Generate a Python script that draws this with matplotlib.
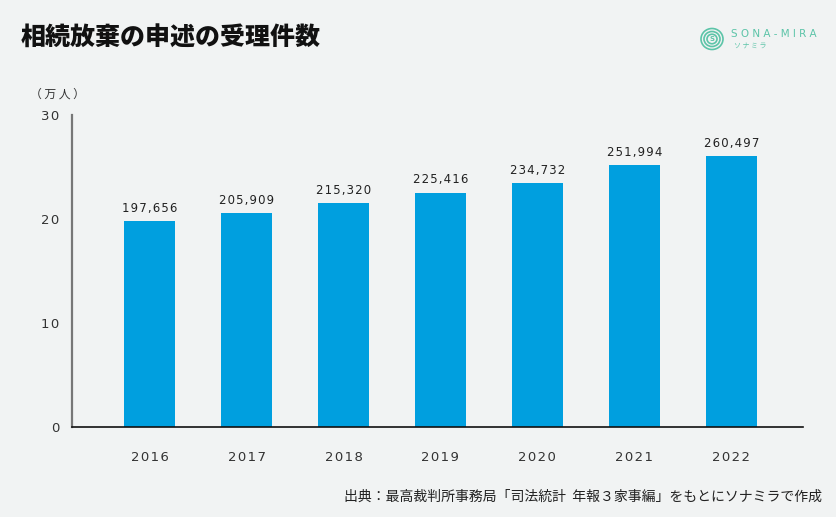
import matplotlib.pyplot as plt
from matplotlib.patches import Ellipse

plt.rcParams['font.family'] = ['Noto Sans CJK JP', 'DejaVu Sans']

years = ['2016', '2017', '2018', '2019', '2020', '2021', '2022']
cases = [197656, 205909, 215320, 225416, 234732, 251994, 260497]
yticks = [0, 10, 20, 30]

bg = '#f1f3f3'
bar_color = '#009fdf'
teal = '#5cc4a8'


def spaced(s, sep='\u200a'):
    # letter-spaced look of the original
    return sep.join(s)


fig = plt.figure(figsize=(8.36, 5.17), dpi=100, facecolor=bg)
ax = fig.add_axes([72 / 836, 90 / 517, 731 / 836, 312 / 517], facecolor=bg)

x = range(len(years))
vals = [c / 10000 for c in cases]
ax.bar(x, vals, width=0.53, color=bar_color, zorder=2)
for i, (v, c) in enumerate(zip(vals, cases)):
    ax.text(i, v + 0.6, spaced(f'{c:,}'), ha='center', va='bottom', fontsize=8.5,
            color='#222222', family='DejaVu Sans')

ax.set_xlim(-0.8, 6.74)
ax.set_ylim(0, 30)
ax.set_xticks(list(x))
ax.set_xticklabels([spaced(y) for y in years], fontsize=9.5, color='#333333', family='DejaVu Sans')
ax.set_yticks(yticks)
ax.set_yticklabels([spaced(str(t)) for t in yticks], fontsize=9.5, color='#333333', family='DejaVu Sans')
ax.tick_params(axis='both', length=0)
ax.tick_params(axis='x', pad=17)
ax.tick_params(axis='y', pad=9)
for s in ['top', 'right']:
    ax.spines[s].set_visible(False)
ax.spines['left'].set_color('#777777')
ax.spines['left'].set_linewidth(1.6)
ax.spines['bottom'].set_color('#111111')
ax.spines['bottom'].set_linewidth(1.2)

fig.text(30 / 836, 1 - 94 / 517, '（ 万 人 ）', fontsize=8.5, color='#333333', va='center', ha='left')
fig.text(21 / 836, 1 - 37 / 517, '相続放棄の申述の受理件数', fontsize=18, fontweight='heavy',
         color='#111111', va='center', ha='left')
fig.text(822 / 836, 1 - 497 / 517, '出典：最高裁判所事務局「司法統計  年報３家事編」をもとにソナミラで作成',
         fontsize=10, color='#222222', va='center', ha='right')

# logo
for w, h in [(22, 21), (16, 15), (10, 9.5)]:
    fig.add_artist(Ellipse((712 / 836, 1 - 39 / 517), w / 836, h / 517, transform=fig.transFigure,
                           fill=False, edgecolor=teal, linewidth=1.2))
fig.text(712 / 836, 1 - 39 / 517, 'S', fontsize=5, color=teal, ha='center', va='center',
         family='DejaVu Sans', fontweight='bold')
fig.text(731 / 836, 1 - 34 / 517, ' '.join('SONA-MIRA'), fontsize=7.5, color=teal, ha='left',
         va='center', family='DejaVu Sans')
fig.text(734 / 836, 1 - 46 / 517, ' '.join('ソナミラ'), fontsize=5, color=teal, ha='left', va='center')

fig.savefig('out.png', dpi=100, facecolor=bg)
